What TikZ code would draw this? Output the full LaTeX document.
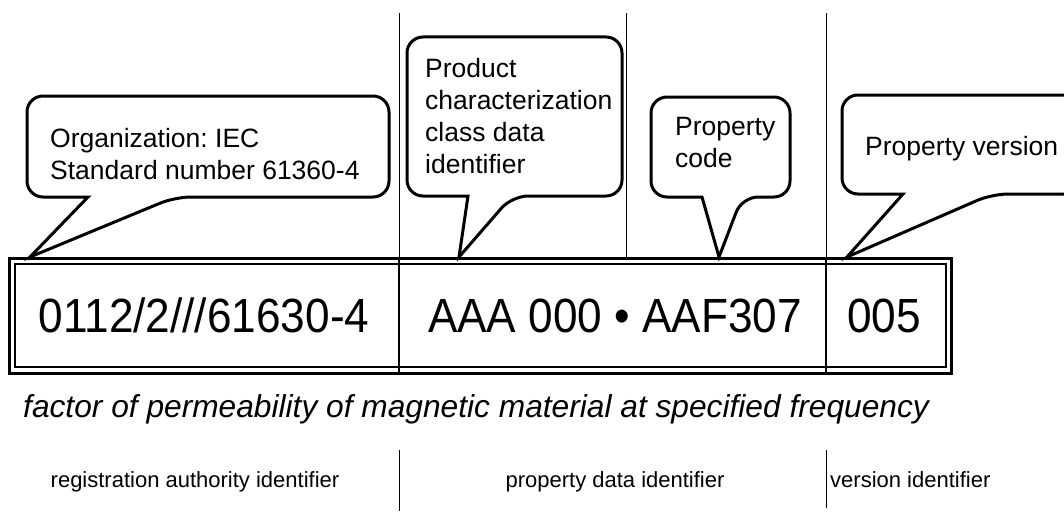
\documentclass[tikz,border=0pt]{standalone}
\usepackage{fontspec}
\setmainfont{Liberation Sans}
\newfontfamily\narrowsans[FakeStretch=0.92]{Liberation Sans}
\frenchspacing
\usetikzlibrary{positioning}
\tikzset{
code/.style={font=\narrowsans\fontsize{48}{56}\selectfont,inner sep=0pt,anchor=base},
say/.style={font=\fontsize{26.5}{32}\selectfont,inner sep=0pt,anchor=north west,align=left},
part/.style={font=\fontsize{22}{26}\selectfont,inner sep=0pt,anchor=base},
bubble/.style={line width=3pt,rounded corners=16pt,fill=white},
divider/.style={line width=1pt},
}

\begin{document}
\begin{tikzpicture}[x=1pt,y=-1pt]
    \useasboundingbox (0,0) rectangle (1064,511);
    \clip (0,0) rectangle (1064,511);

    % separators between the parts
    \draw[divider] (399,13) -- (399,258);
    \draw[divider] (626,13) -- (626,258);
    \draw[divider] (826,13) -- (826,258);
    \draw[divider] (399,450) -- (399,511);
    \draw[divider] (826,450) -- (826,508);

    % the identifier frame
    \draw[line width=3pt] (9,258) rectangle (951,373);
    \draw[line width=2pt] (14.5,264) rectangle (945.5,367);
    \draw[line width=2pt] (399,258) -- (399,373);
    \draw[line width=2pt] (826,258) -- (826,373);

    \node[code] (ra) at (204,332) {0112/2///61630-4};
    \node[code] (pd) at (615,332) {AAA 000 • AAF307};
    \node[code] (vi) at (884,332) {005};

    \coordinate (tipA) at (30,257);
    \coordinate (tipB) at (459,257);
    \coordinate (tipC) at (719,257);
    \coordinate (tipD) at (847,257);

    % callouts
    \draw[bubble] (88,197) -- (27,197) -- (27,96) -- (389,96) -- (389,197)
        -- (175,197) [sharp corners] -- (tipA) -- cycle;
    \draw[bubble] (468,196) -- (407,196) -- (407,37) -- (622,37) -- (622,196)
        -- (512,196) [sharp corners] -- (tipB) -- cycle;
    \draw[bubble] (702,197) -- (651,197) -- (651,97) -- (790,97) -- (790,197)
        -- (742,197) [sharp corners] -- (tipC) -- cycle;
    \draw[bubble] (903,194) -- (842,194) -- (842,95) -- (1080,95) -- (1080,194)
        -- (992,194) [sharp corners] -- (tipD) -- cycle;

    \node[say] (org) at (50,128) {Organization: IEC\\Standard number 61360-4};
    \node[say] (pcc) at (425,58) {Product\\characterization\\class data\\identifier};
    \node[say] (pcode) at (675,117) {Property\\code};
    \node[say,anchor=base west] (pver) at (865,155) {Property version};

    \node[font=\fontsize{31.7}{38}\selectfont\itshape,inner sep=0pt,anchor=base west]
        (name) at (23,417) {factor of permeability of magnetic material at specified frequency};

    \node[part] (rai) at (195,487) {registration authority identifier};
    \node[part] (pdi) at (615,487) {property data identifier};
    \node[part,anchor=base west] (vid) at (830,487) {version identifier};
\end{tikzpicture}
\end{document}
